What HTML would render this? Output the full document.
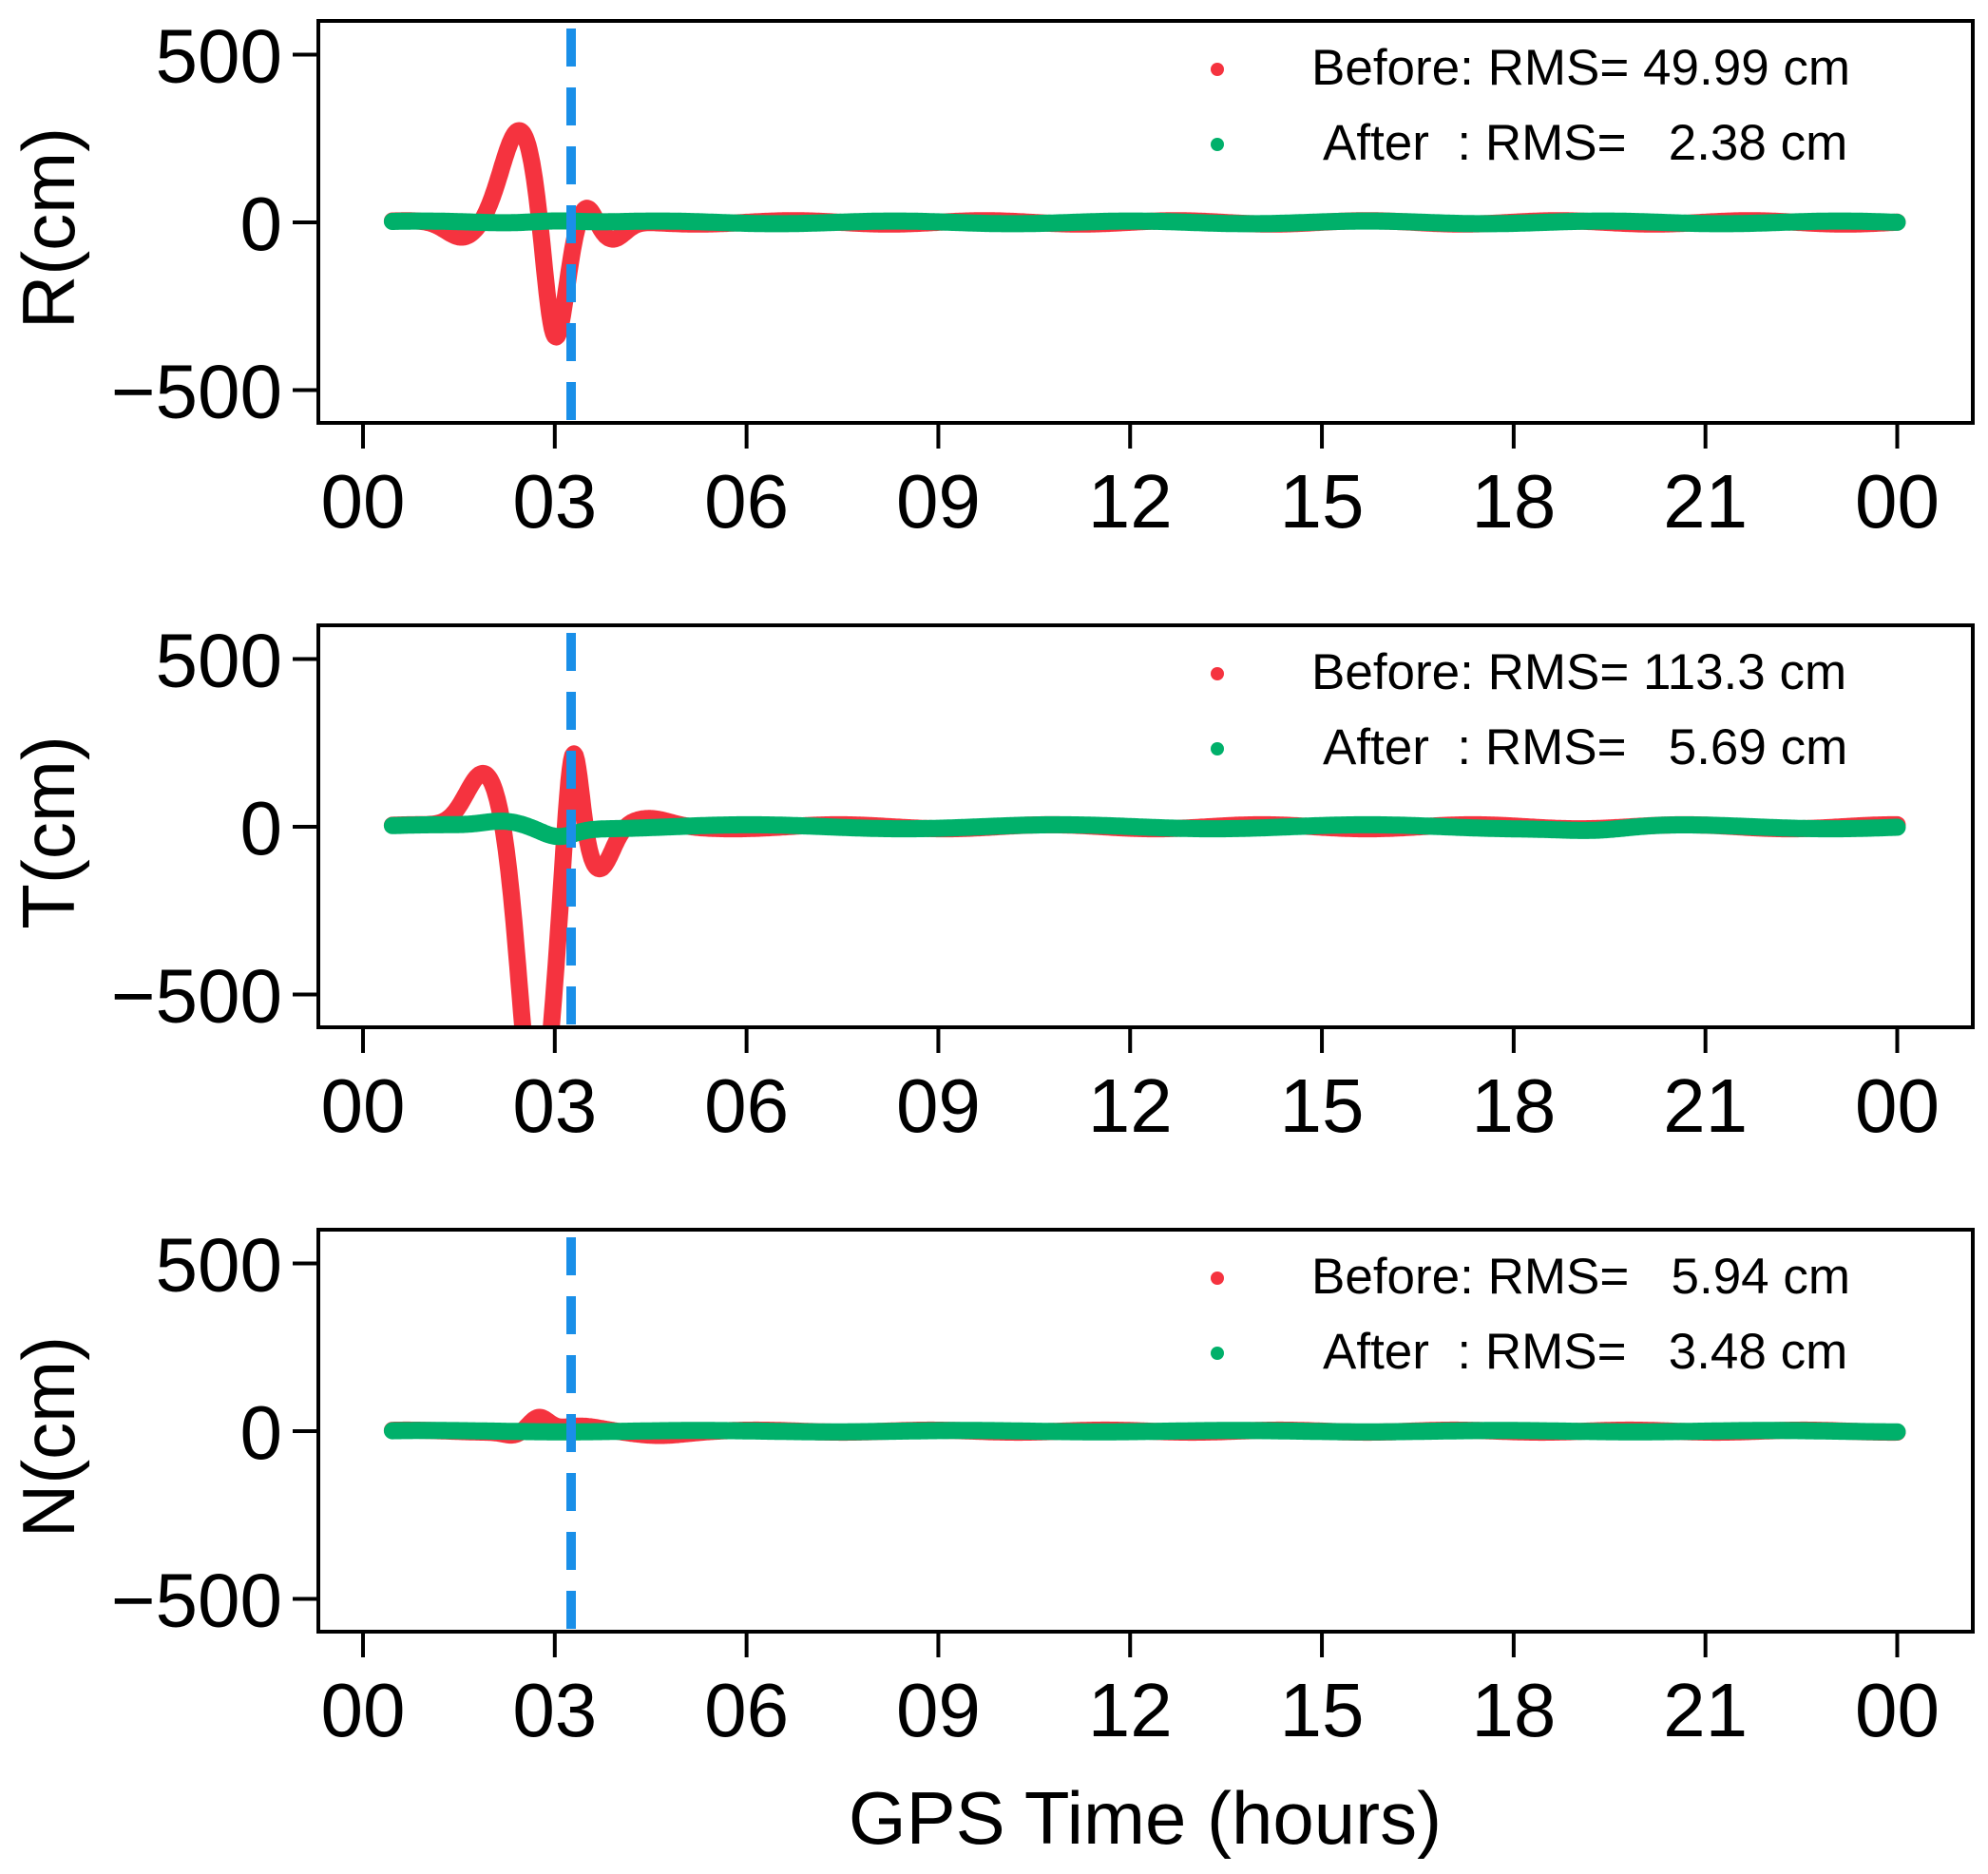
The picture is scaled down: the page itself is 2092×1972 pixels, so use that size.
<!DOCTYPE html>
<html><head><meta charset="utf-8">
<style>
html,body{margin:0;padding:0;background:#fff;}
svg{display:block;}
text{font-family:"Liberation Sans",Arial,sans-serif;fill:#000;}
</style></head>
<body>
<svg id="s" width="2092" height="1972" xmlns="http://www.w3.org/2000/svg"></svg>
<script>
const S=document.getElementById('s');
const NS='http://www.w3.org/2000/svg';
function el(t,a,p){const e=document.createElementNS(NS,t);for(const k in a)e.setAttribute(k,a[k]);(p||S).appendChild(e);return e;}
function g(h,m,s){return Math.exp(-((h-m)*(h-m))/(2*s*s));}
const L=335,R=2076,H=423,tops=[22,658,1294];
const X0=382,PX=67.27;
function hx(h){return X0+h*PX;}
const labels=['R(cm)','T(cm)','N(cm)'];
const leg=[['Before: RMS= 49.99 cm','After  : RMS=   2.38 cm'],['Before: RMS= 113.3 cm','After  : RMS=   5.69 cm'],['Before: RMS=   5.94 cm','After  : RMS=   3.48 cm']];
const red=[
 h=>280*g(h,2.45,0.28)-380*g(h,3.0,0.17)-45*g(h,1.55,0.25)+50*g(h,3.5,0.13)-55*g(h,3.9,0.2)+5*Math.sin(h*2.1),
 h=>165*g(h,1.9,0.28)-900*g(h,2.72,0.25)+300*g(h,3.28,0.12)-130*g(h,3.7,0.2)+20*g(h,4.5,0.3)+6*Math.sin(h*1.9),
 h=>40*g(h,2.75,0.15)-10*g(h,2.35,0.15)+12*g(h,3.4,0.3)-10*g(h,4.6,0.4)+3*Math.sin(h*2.3)
];
const grn=[
 h=>4*Math.sin(h*1.7)+8*g(h,3,0.4),
 h=>15*g(h,2.2,0.3)-25*g(h,3.05,0.25)+6*Math.sin(h*1.3)-10*g(h,19.3,0.5),
 h=>2*Math.sin(h*1.5)
];
for(let i=0;i<3;i++){
 const T=tops[i],B=T+H,Z=T+212,k=0.353;
 const yv=v=>Z-v*k;
 const cp=el('clipPath',{id:'c'+i});el('rect',{x:L,y:T,width:R-L,height:H},cp);
 const gr=el('g',{'clip-path':'url(#c'+i+')'});
 [red[i],grn[i]].forEach((f,j)=>{
   let d='';for(let h=0.46;h<=24.001;h+=0.02){d+=(d?'L':'M')+hx(h).toFixed(1)+','+yv(f(h)).toFixed(1);}
   el('path',{d:d,fill:'none',stroke:j?'#00b06a':'#f5333f','stroke-width':j?18:18,'stroke-linecap':'round','stroke-linejoin':'round'},gr);
 });
 el('line',{x1:601,x2:601,y1:T+8,y2:B,stroke:'#1a8fe8','stroke-width':10,'stroke-dasharray':'40 22'},gr);
 el('rect',{x:L,y:T,width:R-L,height:H,fill:'none',stroke:'#000','stroke-width':4});
 [[500,'500'],[0,'0'],[-500,'\u2212500']].forEach(([v,t])=>{
   const y=yv(v);el('line',{x1:L-27,x2:L,y1:y,y2:y,stroke:'#000','stroke-width':4});
   const tx=el('text',{x:L-38,y:y+29,'text-anchor':'end','font-size':80});tx.textContent=t;
 });
 ['00','03','06','09','12','15','18','21','00'].forEach((t,j)=>{
   const x=hx(j*3);el('line',{x1:x,x2:x,y1:B,y2:B+27,stroke:'#000','stroke-width':4});
   const tx=el('text',{x:x,y:B+110,'text-anchor':'middle','font-size':80});tx.textContent=t;
 });
 const yl=el('text',{x:0,y:0,'text-anchor':'middle','font-size':78,transform:'translate(78,'+(T+218)+') rotate(-90)'});yl.textContent=labels[i];
 el('circle',{cx:1281,cy:T+51,r:7,fill:'#f5333f'});
 el('circle',{cx:1281,cy:T+130,r:7,fill:'#00b06a'});
 const t1=el('text',{x:1380,y:T+67,'font-size':53});t1.textContent=leg[i][0];t1.style.whiteSpace='pre';
 const t2=el('text',{x:1392,y:T+146,'font-size':53});t2.textContent=leg[i][1];t2.style.whiteSpace='pre';
}
const xt=el('text',{x:1205,y:1940,'text-anchor':'middle','font-size':78});xt.textContent='GPS Time (hours)';
</script>
</body></html>
